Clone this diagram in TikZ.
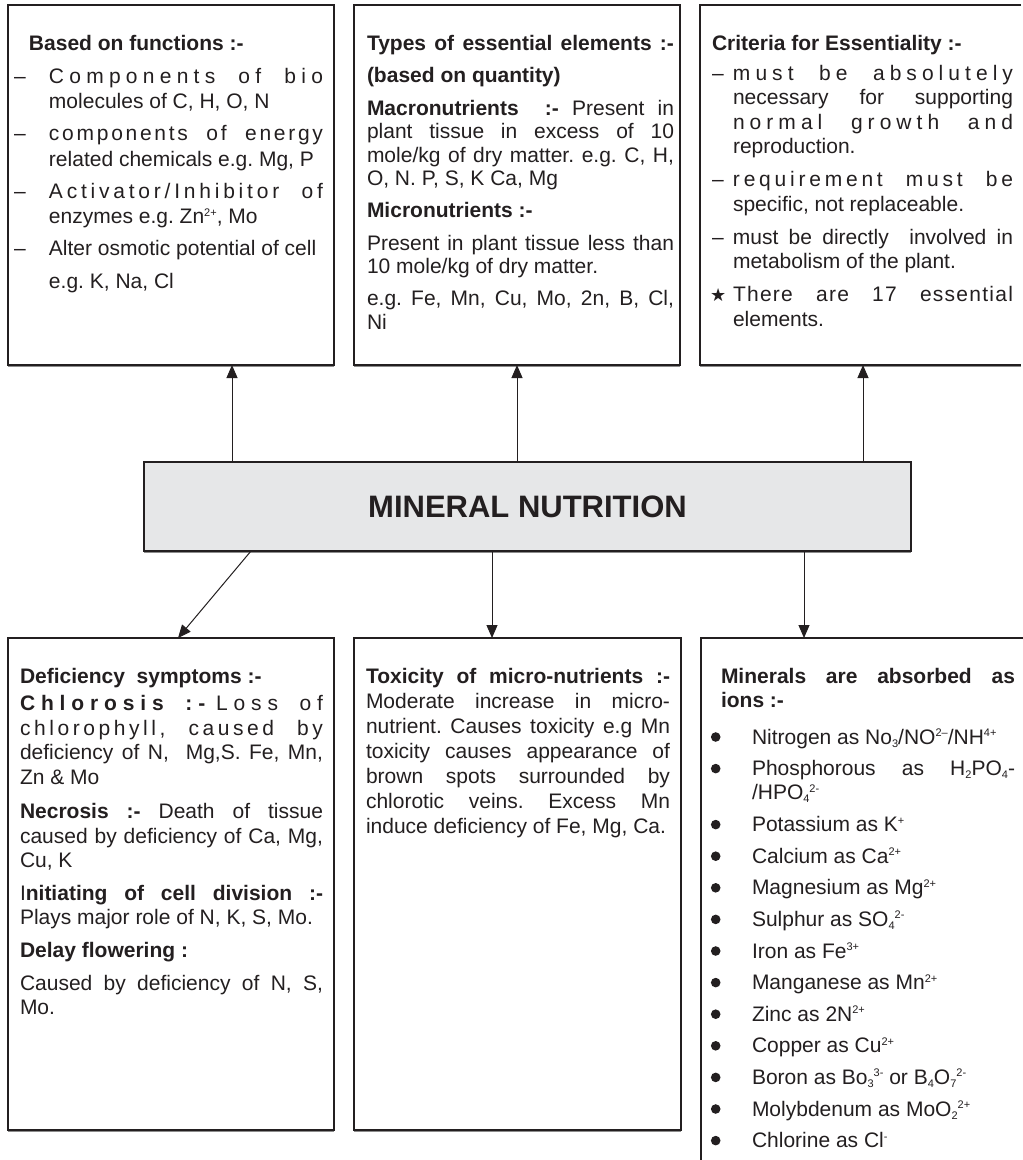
\documentclass[tikz,border=0pt]{standalone}
\usepackage{fontspec}
\setmainfont{Liberation Sans}
\newfontfamily\symfont{DejaVu Sans}
\usetikzlibrary{arrows.meta}
\definecolor{ink}{HTML}{231F20}
\definecolor{boxgray}{HTML}{E6E7E8}
\newlength\hangw
\newcommand\boxfont{\fontsize{21}{24}\selectfont\frenchspacing\lineskiplimit=-100pt\lineskip=0pt\parindent=0pt\parskip=0pt\tolerance=10000\pretolerance=-1\hbadness=10000\hyphenpenalty=10000\exhyphenpenalty=10000}
\newcommand\ls[2]{{\addfontfeature{LetterSpace=#1}#2}}
\newcommand\lsb[2]{{\bfseries\addfontfeature{LetterSpace=#1}#2}}
\newcommand\sps[1]{\raisebox{7.5pt}{\fontsize{11}{11}\selectfont #1}}
\newcommand\sbs[1]{\raisebox{-3pt}{\fontsize{11}{11}\selectfont #1}}
\newcommand\sbsp[2]{\sbs{#1}\sps{#2}}
\newcommand\mitem[2]{\par\vspace{#1}\hangindent=\hangw\hangafter=0\noindent\llap{\makebox[\hangw][l]{#2}}}
\begin{document}
\begin{tikzpicture}[x=1pt,y=-1pt,
  boxline/.style={draw=ink,line width=1.2pt},
  boxst/.style={boxline,anchor=north west,inner sep=0pt,outer sep=0pt},
  openbox/.style={anchor=north west,inner sep=0pt,outer sep=0pt},
  txt/.style={anchor=base west,inner sep=0pt,outer sep=0pt,text=ink},
  arr/.style={draw=ink,line width=1pt,-{Triangle[length=13pt,width=11pt]}},
  shadowline/.style={draw=black!45,line width=1.4pt}]
\fill[white] (0,0) rectangle (1023,1160);
\useasboundingbox (0,0) rectangle (1023,1160);

% boxes
\node[boxst,minimum width=326pt,minimum height=360pt] (tb1) at (8,5) {};
\node[boxst,minimum width=326pt,minimum height=360pt] (tb2) at (354,5) {};
\node[openbox,minimum width=321pt,minimum height=360pt] (tb3) at (700,5) {};
\draw[boxline] (tb3.north east) -- (tb3.north west) -- (tb3.south west) -- (tb3.south east);
\node[boxst,fill=boxgray,minimum width=767pt,minimum height=89pt,font=\bfseries\fontsize{31}{31}\selectfont,text=ink] (mn) at (144,462) {MINERAL NUTRITION};
\node[boxst,minimum width=326pt,minimum height=492pt] (bb1) at (8,638) {};
\node[boxst,minimum width=327pt,minimum height=492pt] (bb2) at (354,638) {};
\node[openbox,minimum width=322pt,minimum height=522pt] (bb3) at (701,638) {};
\draw[boxline] (bb3.north east) -- (bb3.north west) -- (bb3.south west);

% shadows on bottom edges
\foreach \b in {tb1,tb2,mn,bb1,bb2}{
  \draw[shadowline] ([yshift=-1.6pt]\b.south west) -- ([yshift=-1.6pt]\b.south east);
}
\draw[shadowline] ([yshift=-1.6pt]tb3.south west) -- ([yshift=-1.6pt]tb3.south east);

% connectors
\coordinate (a1) at (232,0);
\coordinate (a2) at (517,0);
\coordinate (a3) at (863,0);
\coordinate (a4) at (492,0);
\coordinate (a5) at (804,0);
\coordinate (a6) at (251,0);
\coordinate (a7) at (178,0);
\draw[arr] (mn.north -| a1) -- (tb1.south -| a1);
\draw[arr] (mn.north -| a2) -- (tb2.south -| a2);
\draw[arr] (mn.north -| a3) -- (tb3.south -| a3);
\draw[arr] (mn.south -| a6) -- (bb1.north -| a7);
\draw[arr] (mn.south -| a4) -- (bb2.north -| a4);
\draw[arr] (mn.south -| a5) -- (bb3.north -| a5);

% texts
\node[txt] (t1) at (12,50) {\parbox[t]{311pt}{\boxfont\baselineskip=25.5pt\setlength\hangw{37pt}%
\hspace*{17pt}\textbf{Based on functions :-}%
\mitem{7.5pt}{\hspace{2pt}–}\ls{25}{Components of bio}\linebreak molecules of C, H, O, N%
\mitem{6.5pt}{\hspace{2pt}–}\ls{13}{components of energy}\linebreak related chemicals e.g. Mg, P%
\mitem{6.5pt}{\hspace{2pt}–}\ls{18}{Activator/Inhibitor of}\linebreak enzymes e.g. Zn\sps{2+}, Mo%
\mitem{6.5pt}{\hspace{2pt}–}Alter osmotic potential of cell\\[7pt]e.g. K, Na, Cl}};

\node[txt] (t2) at (367,50) {\parbox[t]{307pt}{\boxfont\baselineskip=23.5pt
\makebox[\linewidth][s]{\textbf{Types of essential elements :-}}\par
\vspace{8.5pt}\textbf{(based on quantity)}\par
\vspace{9.5pt}\textbf{Macronutrients\ \ :-} Present in\linebreak plant tissue in excess of 10\linebreak mole/kg of dry matter. e.g. C, H,\linebreak O, N. P, S, K Ca, Mg\par
\vspace{8pt}\textbf{Micronutrients :-}\par
\vspace{9.5pt}Present in plant tissue less than\linebreak 10 mole/kg of dry matter.\par
\vspace{8.5pt}e.g. Fe, Mn, Cu, Mo, 2n, B, Cl,\linebreak Ni}};

\node[txt] (t3) at (710,50) {\parbox[t]{303pt}{\boxfont\baselineskip=24.5pt\setlength\hangw{23pt}%
\hspace*{2pt}\textbf{Criteria for Essentiality :-}%
\mitem{5.5pt}{\hspace{2pt}–}\ls{24}{must be absolutely}\linebreak necessary for supporting\linebreak\ls{24}{normal growth and}\linebreak reproduction.%
\mitem{8.5pt}{\hspace{2pt}–}\ls{18}{requirement must be}\linebreak specific, not replaceable.%
\mitem{8.5pt}{\hspace{2pt}–}must be directly\ \ involved in\linebreak metabolism of the plant.%
\mitem{8.5pt}{{\symfont\fontsize{18}{18}\selectfont ★}}\ls{6}{There are 17 essential}\linebreak elements.}};

\node[txt] (t4) at (20,683) {\parbox[t]{303pt}{\boxfont\baselineskip=24.5pt
\textbf{Deficiency\ \ symptoms :-}\par
\vspace{3pt}\lsb{28}{Chlorosis :-} \ls{28}{Loss of}\linebreak\ls{17}{chlorophyll, caused by}\linebreak deficiency of N,\ \ Mg,S. Fe, Mn,\linebreak Zn \& Mo\par
\vspace{10pt}\textbf{Necrosis :-} Death of tissue\linebreak caused by deficiency of Ca, Mg,\linebreak Cu, K\par
\vspace{8pt}I\textbf{nitiating of cell division :-}\linebreak Plays major role of N, K, S, Mo.\par
\vspace{8pt}\textbf{Delay flowering :}\par
\vspace{8.5pt}Caused by deficiency of N, S,\linebreak Mo.}};

\node[txt] (t5) at (366,683) {\parbox[t]{304pt}{\boxfont\baselineskip=25pt
\textbf{Toxicity of micro-nutrients :-}\linebreak Moderate increase in micro-\linebreak nutrient. Causes toxicity e.g Mn\linebreak toxicity causes appearance of\linebreak brown spots surrounded by\linebreak chlorotic veins. Excess Mn\linebreak induce deficiency of Fe, Mg, Ca.}};

\node[txt] (t6) at (705,683) {\parbox[t]{310pt}{\boxfont\baselineskip=24pt\setlength\hangw{47pt}%
{\leftskip=16pt\textbf{Minerals are absorbed as\linebreak ions :-}\par}%
\mitem{13pt}{}Nitrogen as No\sbs{3}/NO\sps{2–}/NH\sps{4+}%
\mitem{7.6pt}{}Phosphorous as H\sbs{2}PO\sbs{4}-\linebreak /HPO\sbsp{4}{2-}%
\mitem{8pt}{}Potassium as K\sps{+}%
\mitem{7.6pt}{}Calcium as Ca\sps{2+}%
\mitem{7.6pt}{}Magnesium as Mg\sps{2+}%
\mitem{7.6pt}{}Sulphur as SO\sbsp{4}{2-}%
\mitem{7.6pt}{}Iron as Fe\sps{3+}%
\mitem{7.6pt}{}Manganese as Mn\sps{2+}%
\mitem{7.6pt}{}Zinc as 2N\sps{2+}%
\mitem{7.6pt}{}Copper as Cu\sps{2+}%
\mitem{7.6pt}{}Boron as Bo\sbsp{3}{3-} or B\sbs{4}O\sbsp{7}{2-}%
\mitem{7.6pt}{}Molybdenum as MoO\sbsp{2}{2+}%
\mitem{7.6pt}{}Chlorine as Cl\sps{-}}};

\foreach \yy in {744,775.6,831.6,863.2,894.8,926.4,958,989.6,1021.2,1052.8,1084.4,1116,1147.6}
  \fill[ink] (715.7,\yy-7) circle (4.8pt);
\end{tikzpicture}
\end{document}
